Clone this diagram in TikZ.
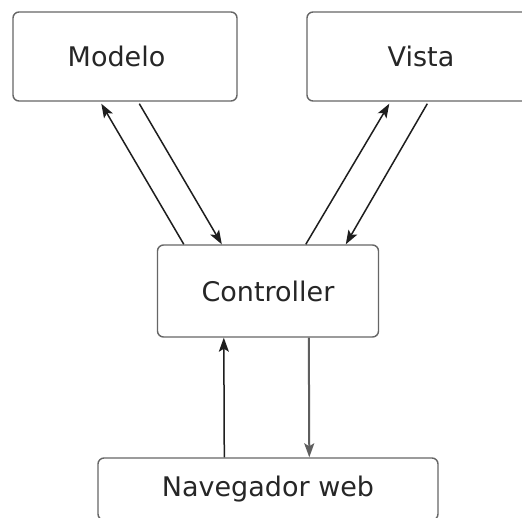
\documentclass[tikz,border=0pt]{standalone}
\usepackage{fontspec}
\setmainfont{DejaVu Sans}
\usetikzlibrary{arrows.meta}
\definecolor{boxline}{HTML}{666666}
\definecolor{txt}{HTML}{262626}
\definecolor{arrowdark}{HTML}{1E1E1E}
\definecolor{arrowgray}{HTML}{5E5E5E}
\begin{document}
\begin{tikzpicture}[x=1pt,y=-1pt,
  block/.style={draw=boxline,line width=1.4pt,rounded corners=6pt,fill=white,
    text=txt,inner sep=0pt,font=\fontsize{27}{32}\selectfont},
  link/.style={draw=arrowdark,line width=1.5pt,-{Stealth[length=14pt,width=10pt,inset=3pt]}},
  linkgray/.style={link,draw=arrowgray,line width=2pt}]
\clip (0,0) rectangle (522,517);
\fill[white] (0,0) rectangle (522,517);
% the four components
\node[block,minimum width=224pt,minimum height=89pt] (modelo) at (125,56.5) {\kern-17pt Modelo};
\node[block,minimum width=228pt,minimum height=89pt] (vista) at (421,56.5) {Vista};
\node[block,minimum width=221pt,minimum height=92pt] (ctrl) at (268,291) {Controller};
\node[block,minimum width=340pt,minimum height=62pt] (nav) at (268,489) {Navegador web};
% controller <-> model
\draw[link] ([xshift=27pt]ctrl.north west) -- ([xshift=89pt,yshift=-2pt]modelo.south west);
\draw[link] ([xshift=127pt,yshift=-2pt]modelo.south west) -- ([xshift=65pt]ctrl.north west);
% controller <-> view
\draw[link] ([xshift=149pt]ctrl.north west) -- ([xshift=83pt,yshift=-2pt]vista.south west);
\draw[link] ([xshift=121pt,yshift=-2pt]vista.south west) -- ([xshift=189pt]ctrl.north west);
% browser <-> controller
\draw[link] ([xshift=127pt]nav.north west) -- ([xshift=67pt]ctrl.south west);
\draw[linkgray] ([xshift=152pt]ctrl.south west) -- ([xshift=212pt]nav.north west);
\end{tikzpicture}
\end{document}
